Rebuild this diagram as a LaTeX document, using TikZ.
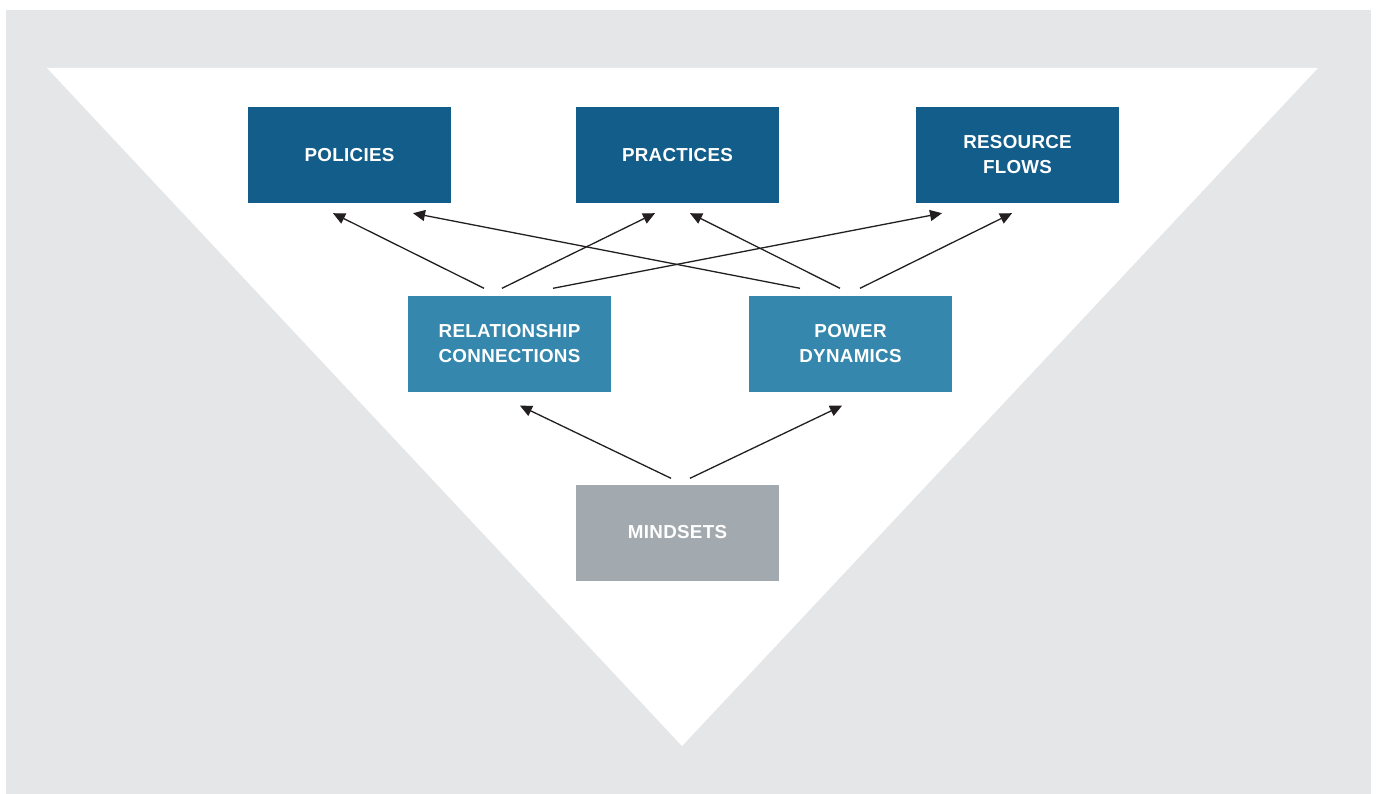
\documentclass[tikz,border=0pt]{standalone}
\usepackage{fontspec}
\setmainfont{Liberation Sans}
\usetikzlibrary{arrows.meta}
\definecolor{bggrey}{HTML}{E5E6E8}
\definecolor{darkblue}{HTML}{125D8A}
\definecolor{midblue}{HTML}{3587AD}
\definecolor{boxgrey}{HTML}{A2A9AF}
\definecolor{arrowcol}{HTML}{231F20}
\newfontfamily\labelfont[LetterSpace=1.5]{Liberation Sans}
\tikzset{
  box/.style={minimum width=203pt, minimum height=96pt, inner sep=0pt, text=white,
    font=\labelfont\fontsize{18.8}{25}\selectfont\bfseries, align=center},
  topbox/.style={box, fill=darkblue},
  midbox/.style={box, fill=midblue},
  basebox/.style={box, fill=boxgrey},
  link/.style={draw=arrowcol, line width=1.3pt, -{Triangle[length=12pt,width=11pt]}},
}
\begin{document}
\begin{tikzpicture}[x=1pt,y=-1pt]
\useasboundingbox (0,0) rectangle (1378,794);
\fill[bggrey] (6,10) rectangle (1371,794);
\fill[white] (47,68) -- (1318,68) -- (682,746) -- cycle;
\node[topbox] (pol) at (349.5,155) {POLICIES};
\node[topbox] (pra) at (677.5,155) {PRACTICES};
\node[topbox] (res) at (1017.5,155) {RESOURCE\\FLOWS};
\node[midbox] (rc) at (509.5,343.5) {RELATIONSHIP\\CONNECTIONS};
\node[midbox] (pd) at (850.5,343.5) {POWER\\DYNAMICS};
\node[basebox] (min) at (677.5,532.5) {MINDSETS};
% from relationship connections
\draw[link] ([xshift=-25.5pt,yshift=7pt]rc.north) -- ([xshift=-16.5pt,yshift=-10pt]pol.south);
\draw[link] ([xshift=-7.5pt,yshift=7pt]rc.north) -- ([xshift=-22.5pt,yshift=-10pt]pra.south);
\draw[link] ([xshift=43.5pt,yshift=7pt]rc.north) -- ([xshift=-75.5pt,yshift=-10pt]res.south);
% from power dynamics
\draw[link] ([xshift=-50.5pt,yshift=7pt]pd.north) -- ([xshift=63.5pt,yshift=-10pt]pol.south);
\draw[link] ([xshift=-10.5pt,yshift=7pt]pd.north) -- ([xshift=12.5pt,yshift=-10pt]pra.south);
\draw[link] ([xshift=9.5pt,yshift=7pt]pd.north) -- ([xshift=-5.5pt,yshift=-10pt]res.south);
% from mindsets
\draw[link] ([xshift=-6.5pt,yshift=6pt]min.north) -- ([xshift=10.5pt,yshift=-14pt]rc.south);
\draw[link] ([xshift=12.5pt,yshift=6pt]min.north) -- ([xshift=-8.5pt,yshift=-14pt]pd.south);
\end{tikzpicture}
\end{document}
